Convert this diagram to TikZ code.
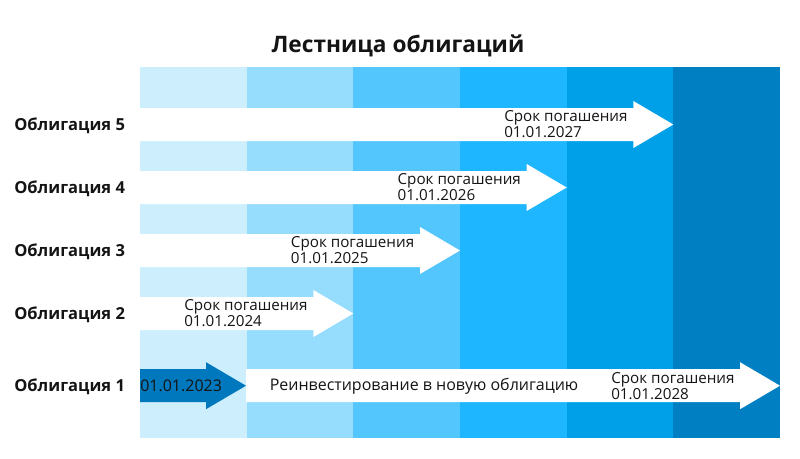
\documentclass[tikz,border=0pt]{standalone}
\usepackage{fontspec}
\setmainfont{Open Sans}
\usetikzlibrary{positioning}
\definecolor{ink}{RGB}{20,20,20}
\definecolor{colA}{RGB}{205,238,253}
\definecolor{colB}{RGB}{150,220,253}
\definecolor{colC}{RGB}{82,198,253}
\definecolor{colD}{RGB}{30,182,254}
\definecolor{colE}{RGB}{0,160,233}
\definecolor{colF}{RGB}{0,128,194}
\definecolor{start}{RGB}{0,120,190}
\tikzset{
    title/.style={
        font=\fontsize{17}{20}\selectfont\bfseries,
        text=ink,
        inner sep=0pt
    },
    bond/.style={
        font=\fontsize{12.4}{15}\selectfont\bfseries,
        text=ink,
        anchor=west,
        inner sep=0pt
    },
    due/.style={
        font=\fontsize{11.4}{10.7}\selectfont,
        text=ink,
        align=left,
        anchor=west,
        inner sep=0pt
    },
    plain/.style={
        font=\fontsize{12}{14}\selectfont,
        text=ink,
        inner sep=0pt
    }
}
% block arrow: start x, tip x, centre y, colour
\newcommand{\bondarrow}[4]{
    \fill[#4] (#1,#3-16.5) -- (#2-40,#3-16.5) -- (#2-40,#3-23.5) -- (#2,#3)
        -- (#2-40,#3+23.5) -- (#2-40,#3+16.5) -- (#1,#3+16.5) -- cycle;
}
\begin{document}
\begin{tikzpicture}[x=0.75pt,y=-0.75pt]
    \useasboundingbox (0,0) rectangle (800,458);

    % Title
    \node[title] (title) at (398,46) {Лестница облигаций};

    % Columns (one per year)
    \foreach \i/\c in {0/colA, 1/colB, 2/colC, 3/colD, 4/colE, 5/colF} {
        \fill[\c] (140+\i*106.67,66.7) rectangle ++(106.67,371.3);
    }

    % Bonds 2-5
    \foreach \k/\y/\d in {2/313.5/2024, 3/250.5/2025, 4/187.5/2026, 5/124.5/2027} {
        \bondarrow{140}{140+\k*106.67}{\y}{white}
        \node[bond] (bond\k) at (14,\y+1) {Облигация \k};
        \node[due] (due\k) at (184+\k*106.67-213.33,\y) {Срок погашения\\01.01.\d};
    }

    % Bond 1 and reinvestment
    \bondarrow{140}{246}{385.7}{start}
    \bondarrow{246}{780}{385.7}{white}
    \node[bond] (bond1) at (14,386.7) {Облигация 1};
    \node[plain, anchor=west] (start) at (140,385.7) {01.01.2023};
    \node[plain] (reinv) at (424,386) {Реинвестирование в новую облигацию};
    \node[due] (due1) at (611,385.7) {Срок погашения\\01.01.2028};
\end{tikzpicture}
\end{document}
